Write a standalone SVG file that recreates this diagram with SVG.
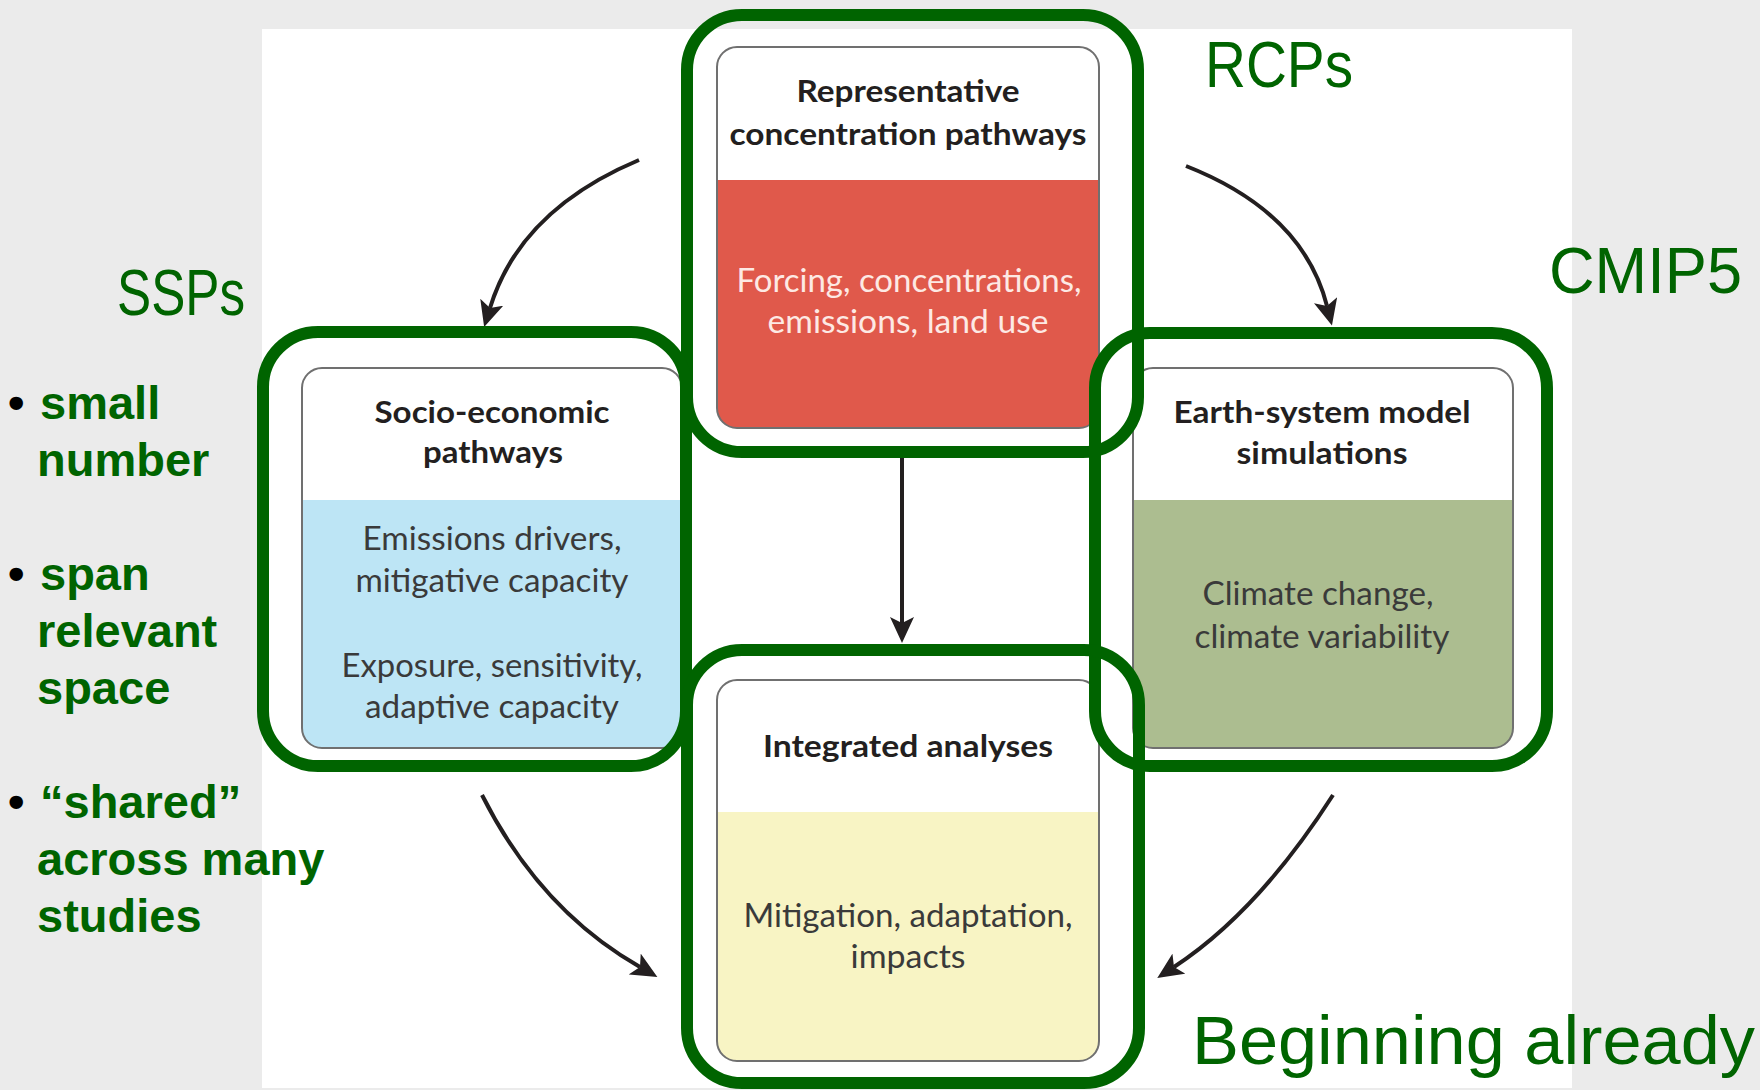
<svg xmlns="http://www.w3.org/2000/svg" width="1760" height="1090" viewBox="0 0 1760 1090">
  <style>
    .frame { fill: none; stroke: #707070; stroke-width: 2; }
    .head { font-family: Lato, "Open Sans", "Liberation Sans", sans-serif; font-weight: 700; font-size: 31px; fill: #231f20; text-anchor: middle; }
    .body { font-family: Lato, "Open Sans", "Liberation Sans", sans-serif; font-weight: 400; font-size: 32px; fill: #3a3a3a; text-anchor: middle; }
    .body.light { fill: #fde9e4; }
    .ring { fill: none; stroke: #006400; stroke-width: 12; }
    .link { fill: none; stroke: #231f20; stroke-width: 4; marker-end: url(#head); }
    .tag { font-family: "Liberation Sans", Arial, sans-serif; fill: #006400; }
    .big { font-size: 64px; }
    .pt { font-size: 47px; font-weight: 700; }
    .dot { font-family: "Liberation Sans", Arial, sans-serif; font-size: 47px; font-weight: 700; fill: #000; }
  </style>
  <defs>
    <marker id="head" markerUnits="userSpaceOnUse" viewBox="0 0 28 24" refX="6" refY="12" markerWidth="28" markerHeight="24" orient="auto">
      <path d="M0,0 L26,12 L0,24 L6,12 Z" fill="#231f20"/>
    </marker>
  </defs>

  <!-- page -->
  <rect x="0" y="0" width="1760" height="1090" fill="#ebebeb"/>
  <rect x="262" y="29" width="1310" height="1059" fill="#ffffff"/>

  <!-- Representative concentration pathways -->
  <g id="rcp">
    <rect x="717" y="47" width="382" height="381" rx="20" fill="#e0594b"/>
    <path d="M717,180 V67 A20,20 0 0 1 737,47 H1079 A20,20 0 0 1 1099,67 V180 Z" fill="#ffffff"/>
    <rect class="frame" x="717" y="47" width="382" height="381" rx="20"/>
    <text class="head" x="908" y="102" textLength="223" lengthAdjust="spacingAndGlyphs">Representative</text>
    <text class="head" x="908" y="145" textLength="357" lengthAdjust="spacingAndGlyphs">concentration pathways</text>
    <text class="body light" x="909" y="292" textLength="345" lengthAdjust="spacingAndGlyphs">Forcing, concentrations,</text>
    <text class="body light" x="908" y="333" textLength="281" lengthAdjust="spacingAndGlyphs">emissions, land use</text>
  </g>

  <!-- Socio-economic pathways -->
  <g id="ssp">
    <rect x="302" y="368" width="380" height="380" rx="20" fill="#bde5f5"/>
    <path d="M302,500 V388 A20,20 0 0 1 322,368 H662 A20,20 0 0 1 682,388 V500 Z" fill="#ffffff"/>
    <rect class="frame" x="302" y="368" width="380" height="380" rx="20"/>
    <text class="head" x="492" y="423" textLength="235" lengthAdjust="spacingAndGlyphs">Socio-economic</text>
    <text class="head" x="493" y="463" textLength="140" lengthAdjust="spacingAndGlyphs">pathways</text>
    <text class="body" x="492" y="550" textLength="259" lengthAdjust="spacingAndGlyphs">Emissions drivers,</text>
    <text class="body" x="492" y="592" textLength="273" lengthAdjust="spacingAndGlyphs">mitigative capacity</text>
    <text class="body" x="492" y="677" textLength="301" lengthAdjust="spacingAndGlyphs">Exposure, sensitivity,</text>
    <text class="body" x="492" y="718" textLength="254" lengthAdjust="spacingAndGlyphs">adaptive capacity</text>
  </g>

  <!-- Earth-system model simulations -->
  <g id="esm">
    <rect x="1133" y="368" width="380" height="380" rx="20" fill="#acbd90"/>
    <path d="M1133,500 V388 A20,20 0 0 1 1153,368 H1493 A20,20 0 0 1 1513,388 V500 Z" fill="#ffffff"/>
    <rect class="frame" x="1133" y="368" width="380" height="380" rx="20"/>
    <text class="head" x="1322" y="423" textLength="297" lengthAdjust="spacingAndGlyphs">Earth-system model</text>
    <text class="head" x="1322" y="464" textLength="171" lengthAdjust="spacingAndGlyphs">simulations</text>
    <text class="body" x="1318" y="605" textLength="231" lengthAdjust="spacingAndGlyphs">Climate change,</text>
    <text class="body" x="1322" y="648" textLength="255" lengthAdjust="spacingAndGlyphs">climate variability</text>
  </g>

  <!-- Integrated analyses -->
  <g id="ia">
    <rect x="717" y="680" width="382" height="381" rx="20" fill="#f8f4c4"/>
    <path d="M717,812 V700 A20,20 0 0 1 737,680 H1079 A20,20 0 0 1 1099,700 V812 Z" fill="#ffffff"/>
    <rect class="frame" x="717" y="680" width="382" height="381" rx="20"/>
    <text class="head" x="908" y="757" textLength="290" lengthAdjust="spacingAndGlyphs">Integrated analyses</text>
    <text class="body" x="908" y="927" textLength="329" lengthAdjust="spacingAndGlyphs">Mitigation, adaptation,</text>
    <text class="body" x="908" y="968" textLength="115" lengthAdjust="spacingAndGlyphs">impacts</text>
  </g>

  <!-- connectors -->
  <g id="connectors">
    <path class="link" d="M639,160 Q520,210 490,308"/>
    <path class="link" d="M1186,166 Q1303,212 1327,306"/>
    <path class="link" d="M902,458 V623"/>
    <path class="link" d="M482,795 Q540,910 640,967"/>
    <path class="link" d="M1333,795 Q1258,912 1174,967"/>
  </g>

  <!-- green highlight outlines -->
  <g id="highlights">
    <rect class="ring" x="687" y="15" width="451" height="437" rx="55"/>
    <rect class="ring" x="263" y="332" width="423" height="434" rx="55"/>
    <rect class="ring" x="1095" y="333" width="452" height="433" rx="55"/>
    <rect class="ring" x="687" y="650" width="452" height="433" rx="55"/>
  </g>

  <!-- labels -->
  <g id="labels">
    <text class="tag big" x="1205" y="87" textLength="148" lengthAdjust="spacingAndGlyphs">RCPs</text>
    <text class="tag big" x="1549" y="293" textLength="193" lengthAdjust="spacingAndGlyphs">CMIP5</text>
    <text class="tag big" x="117" y="315" textLength="128" lengthAdjust="spacingAndGlyphs">SSPs</text>
    <text class="tag" x="1192" y="1064" font-size="68" textLength="563" lengthAdjust="spacingAndGlyphs">Beginning already</text>
  </g>

  <!-- bullet list -->
  <g id="notes">
    <text class="dot" x="8" y="419">•</text>
    <text class="tag pt" x="40" y="419">small</text>
    <text class="tag pt" x="37" y="476">number</text>
    <text class="dot" x="8" y="590">•</text>
    <text class="tag pt" x="40" y="590">span</text>
    <text class="tag pt" x="37" y="647">relevant</text>
    <text class="tag pt" x="37" y="704">space</text>
    <text class="dot" x="8" y="818">•</text>
    <text class="tag pt" x="40" y="818">“shared”</text>
    <text class="tag pt" x="37" y="875">across many</text>
    <text class="tag pt" x="37" y="932">studies</text>
  </g>
</svg>
